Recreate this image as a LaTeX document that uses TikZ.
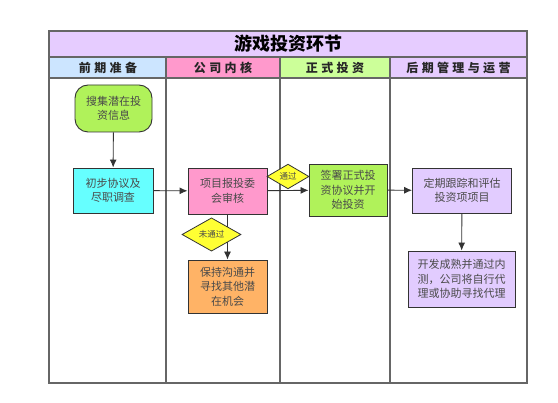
\documentclass[tikz,border=0pt]{standalone}
\usepackage{fontspec}
\setmainfont{Noto Sans CJK SC}
\newfontfamily\headfont[LetterSpace=28]{Noto Sans CJK SC}
\usetikzlibrary{shapes.geometric,arrows.meta}

\definecolor{titlebg}{HTML}{E6CCFF}
\definecolor{headblue}{HTML}{CCE5FF}
\definecolor{headpink}{HTML}{FF99CC}
\definecolor{headgreen}{HTML}{CCFF99}
\definecolor{headlilac}{HTML}{E6CCFF}
\definecolor{stepgreen}{HTML}{B0F25A}
\definecolor{stepcyan}{HTML}{66FFFF}
\definecolor{steppink}{HTML}{FF99CC}
\definecolor{steplilac}{HTML}{E2CCFF}
\definecolor{steporange}{HTML}{FFB366}
\definecolor{gateyellow}{HTML}{FFFF33}
\definecolor{framegray}{HTML}{666666}
\definecolor{linegray}{HTML}{333333}
\definecolor{textgray}{HTML}{4A4A4A}

\begin{document}
\begin{tikzpicture}[x=1pt,y=-1pt,
    frame/.style={draw=framegray,line width=1.2pt},
    headtext/.style={font=\headfont\bfseries\fontsize{12}{14}\selectfont,text=black!85},
    stepbox/.style={draw=linegray,line width=0.9pt,align=center,text=textgray,
      font=\fontsize{11}{14.5}\selectfont,inner sep=2pt},
    gate/.style={diamond,draw=linegray,line width=0.8pt,fill=gateyellow,inner sep=0pt,
      text=textgray,font=\fontsize{8.5}{10}\selectfont},
    arr/.style={draw=linegray,line width=0.9pt,-{Latex[length=8pt,width=7pt]}}]
  \useasboundingbox (0,0) rectangle (558,403);

  % Title bar, lane heads and lane borders.
  \fill[titlebg] (49,31) rectangle (527,57);
  \fill[headblue] (49,57) rectangle (166,78);
  \fill[headpink] (166,57) rectangle (280,78);
  \fill[headgreen] (280,57) rectangle (390,78);
  \fill[headlilac] (390,57) rectangle (527,78);
  \draw[frame] (49,31) rectangle (527,383);
  \draw[frame] (49,57) -- (527,57);
  \draw[frame] (49,78) -- (527,78);
  \foreach \x in {166,280,390}
    \draw[frame] (\x,57) -- (\x,383);

  \node[font=\bfseries\fontsize{18}{20}\selectfont] (title) at (288,44) {游戏投资环节};
  \node[headtext] (prep) at (108,67.5) {前期准备};
  \node[headtext] (core) at (223,67.5) {公司内核};
  \node[headtext] (invest) at (335,67.5) {正式投资};
  \node[headtext] (manage) at (458.5,67.5) {后期管理与运营};

  % Flow steps.
  \node[stepbox,fill=stepgreen,rounded corners=13pt,minimum width=77pt,minimum height=47pt]
    (collect) at (113.5,108.5) {搜集潜在投\\资信息};
  \node[stepbox,fill=stepcyan,minimum width=80pt,minimum height=45pt]
    (check) at (113,190.5) {初步协议及\\尽职调查};
  \node[stepbox,fill=steppink,minimum width=79pt,minimum height=46pt]
    (review) at (227.5,191) {项目报投委\\会审核};
  \node[stepbox,fill=stepgreen,minimum width=78pt,minimum height=52pt]
    (sign) at (348,190) {签署正式投\\资协议并开\\始投资};
  \node[stepbox,fill=steplilac,minimum width=99pt,minimum height=45pt]
    (track) at (462,190.5) {定期跟踪和评估\\投资项项目};
  \node[stepbox,fill=steplilac,minimum width=107pt,minimum height=56pt]
    (launch) at (461.5,279) {开发成熟并通过内\\测，公司将自行代\\理或协助寻找代理};
  \node[stepbox,fill=steporange,minimum width=79pt,minimum height=53pt]
    (hold) at (227.5,286.5) {保持沟通并\\寻找其他潜\\在机会};

  % Connectors.
  \draw[arr] (collect) -- (check);
  \draw[arr] (check) -- (review);
  \draw[arr] (review) -- (sign);
  \draw[arr] (sign) -- (track);
  \draw[arr] (track) -- (launch);
  \draw[arr] (review) -- (hold);

  % Decision marks.
  \node[gate,minimum width=42pt,minimum height=23pt] (pass) at (288,176.5) {通过};
  \node[gate,minimum width=59pt,minimum height=21pt] (fail) at (211.5,234.5) {未通过};
\end{tikzpicture}
\end{document}
